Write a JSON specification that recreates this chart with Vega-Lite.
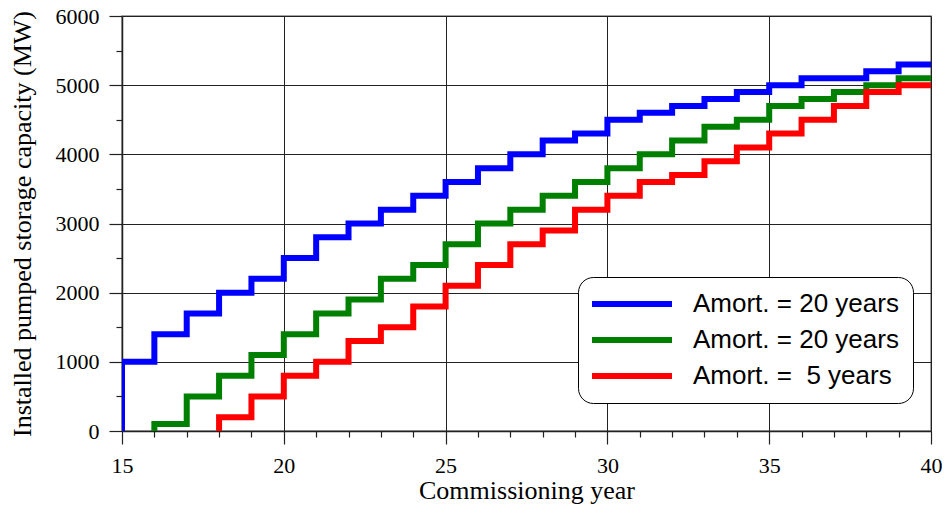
{
  "$schema": "https://vega.github.io/schema/vega-lite/v6.json",
  "width": 809,
  "height": 415,
  "autosize": {"type": "none"},
  "padding": {"left": 122, "top": 16, "right": 18, "bottom": 81},
  "background": "white",
  "config": {
    "view": {"stroke": "#888888", "strokeWidth": 1.5},
    "font": "Liberation Serif"
  },
  "data": {
    "values": [
      {"series": "s1", "year": 15, "cap": 0},
      {"series": "s1", "year": 15, "cap": 1000},
      {"series": "s1", "year": 16, "cap": 1400},
      {"series": "s1", "year": 17, "cap": 1700},
      {"series": "s1", "year": 18, "cap": 2000},
      {"series": "s1", "year": 19, "cap": 2200},
      {"series": "s1", "year": 20, "cap": 2500},
      {"series": "s1", "year": 21, "cap": 2800},
      {"series": "s1", "year": 22, "cap": 3000},
      {"series": "s1", "year": 23, "cap": 3200},
      {"series": "s1", "year": 24, "cap": 3400},
      {"series": "s1", "year": 25, "cap": 3600},
      {"series": "s1", "year": 26, "cap": 3800},
      {"series": "s1", "year": 27, "cap": 4000},
      {"series": "s1", "year": 28, "cap": 4200},
      {"series": "s1", "year": 29, "cap": 4300},
      {"series": "s1", "year": 30, "cap": 4500},
      {"series": "s1", "year": 31, "cap": 4600},
      {"series": "s1", "year": 32, "cap": 4700},
      {"series": "s1", "year": 33, "cap": 4800},
      {"series": "s1", "year": 34, "cap": 4900},
      {"series": "s1", "year": 35, "cap": 5000},
      {"series": "s1", "year": 36, "cap": 5100},
      {"series": "s1", "year": 37, "cap": 5100},
      {"series": "s1", "year": 38, "cap": 5200},
      {"series": "s1", "year": 39, "cap": 5300},
      {"series": "s1", "year": 40, "cap": 5300},
      {"series": "s2", "year": 16, "cap": 0},
      {"series": "s2", "year": 16, "cap": 100},
      {"series": "s2", "year": 17, "cap": 500},
      {"series": "s2", "year": 18, "cap": 800},
      {"series": "s2", "year": 19, "cap": 1100},
      {"series": "s2", "year": 20, "cap": 1400},
      {"series": "s2", "year": 21, "cap": 1700},
      {"series": "s2", "year": 22, "cap": 1900},
      {"series": "s2", "year": 23, "cap": 2200},
      {"series": "s2", "year": 24, "cap": 2400},
      {"series": "s2", "year": 25, "cap": 2700},
      {"series": "s2", "year": 26, "cap": 3000},
      {"series": "s2", "year": 27, "cap": 3200},
      {"series": "s2", "year": 28, "cap": 3400},
      {"series": "s2", "year": 29, "cap": 3600},
      {"series": "s2", "year": 30, "cap": 3800},
      {"series": "s2", "year": 31, "cap": 4000},
      {"series": "s2", "year": 32, "cap": 4200},
      {"series": "s2", "year": 33, "cap": 4400},
      {"series": "s2", "year": 34, "cap": 4500},
      {"series": "s2", "year": 35, "cap": 4700},
      {"series": "s2", "year": 36, "cap": 4800},
      {"series": "s2", "year": 37, "cap": 4900},
      {"series": "s2", "year": 38, "cap": 5000},
      {"series": "s2", "year": 39, "cap": 5100},
      {"series": "s2", "year": 40, "cap": 5100},
      {"series": "s3", "year": 18, "cap": 0},
      {"series": "s3", "year": 18, "cap": 200},
      {"series": "s3", "year": 19, "cap": 500},
      {"series": "s3", "year": 20, "cap": 800},
      {"series": "s3", "year": 21, "cap": 1000},
      {"series": "s3", "year": 22, "cap": 1300},
      {"series": "s3", "year": 23, "cap": 1500},
      {"series": "s3", "year": 24, "cap": 1800},
      {"series": "s3", "year": 25, "cap": 2100},
      {"series": "s3", "year": 26, "cap": 2400},
      {"series": "s3", "year": 27, "cap": 2700},
      {"series": "s3", "year": 28, "cap": 2900},
      {"series": "s3", "year": 29, "cap": 3200},
      {"series": "s3", "year": 30, "cap": 3400},
      {"series": "s3", "year": 31, "cap": 3600},
      {"series": "s3", "year": 32, "cap": 3700},
      {"series": "s3", "year": 33, "cap": 3900},
      {"series": "s3", "year": 34, "cap": 4100},
      {"series": "s3", "year": 35, "cap": 4300},
      {"series": "s3", "year": 36, "cap": 4500},
      {"series": "s3", "year": 37, "cap": 4700},
      {"series": "s3", "year": 38, "cap": 4900},
      {"series": "s3", "year": 39, "cap": 5000},
      {"series": "s3", "year": 40, "cap": 5000}
    ]
  },
  "mark": {"type": "line", "interpolate": "step-after", "strokeWidth": 6, "clip": true, "strokeJoin": "miter", "strokeCap": "butt"},
  "encoding": {
    "x": {
      "field": "year", "type": "quantitative",
      "scale": {"domain": [15, 40], "nice": false, "zero": false},
      "axis": {
        "title": "Commissioning year",
        "values": [15,16,17,18,19,20,21,22,23,24,25,26,27,28,29,30,31,32,33,34,35,36,37,38,39,40],
        "labelExpr": "datum.value % 5 == 0 ? datum.label : ''",
        "tickSize": {"condition": {"test": "datum.value % 5 == 0", "value": 13}, "value": 6},
        "gridOpacity": {"condition": {"test": "datum.value % 5 == 0", "value": 1}, "value": 0},
        "grid": true,
        "gridColor": "#222222",
        "gridWidth": 1,
        "domainColor": "#222222",
        "domainWidth": 1.5,
        "tickColor": "#222222",
        "tickWidth": 1.2,
        "labelFont": "Liberation Serif",
        "labelFontSize": 22,
        "labelColor": "black",
        "labelPadding": 11,
        "labelFlush": false,
        "titleFont": "Liberation Serif",
        "titleFontSize": 26,
        "titleFontWeight": "normal",
        "titleColor": "black",
        "titlePadding": 1
      }
    },
    "y": {
      "field": "cap", "type": "quantitative",
      "scale": {"domain": [0, 6000], "nice": false},
      "axis": {
        "title": "Installed pumped storage capacity (MW)",
        "values": [0,500,1000,1500,2000,2500,3000,3500,4000,4500,5000,5500,6000],
        "labelExpr": "datum.value % 1000 == 0 ? datum.value : ''",
        "tickSize": {"condition": {"test": "datum.value % 1000 == 0", "value": 13}, "value": 6},
        "gridOpacity": {"condition": {"test": "datum.value % 1000 == 0", "value": 1}, "value": 0},
        "grid": true,
        "gridColor": "#222222",
        "gridWidth": 1,
        "domainColor": "#222222",
        "domainWidth": 1.5,
        "tickColor": "#222222",
        "tickWidth": 1.2,
        "labelFont": "Liberation Serif",
        "labelFontSize": 22,
        "labelColor": "black",
        "labelPadding": 10,
        "labelFlush": false,
        "titleFont": "Liberation Serif",
        "titleFontSize": 26,
        "titleFontWeight": "normal",
        "titleColor": "black",
        "titlePadding": 20
      }
    },
    "color": {
      "field": "series", "type": "nominal",
      "scale": {"domain": ["s1", "s2", "s3"], "range": ["#0000ff", "#008000", "#ff0000"]},
      "legend": {
        "title": null,
        "orient": "none",
        "legendX": 456,
        "legendY": 261,
        "labelExpr": "datum.value == 's3' ? 'Amort. =\u00a0 5 years' : 'Amort. = 20 years'",
        "labelFont": "Liberation Sans",
        "labelFontSize": 26,
        "labelColor": "black",
        "labelLimit": 400,
        "labelOffset": 75,
        "symbolType": "M-1.3,0H6.7",
        "symbolStrokeWidth": 6,
        "symbolSize": 400,
        "rowPadding": 10,
        "padding": 14,
        "fillColor": "white",
        "strokeColor": "black",
        "cornerRadius": 15
      }
    },
    "order": [{"field": "cap", "type": "quantitative"}, {"field": "year", "type": "quantitative"}]
  }
}
